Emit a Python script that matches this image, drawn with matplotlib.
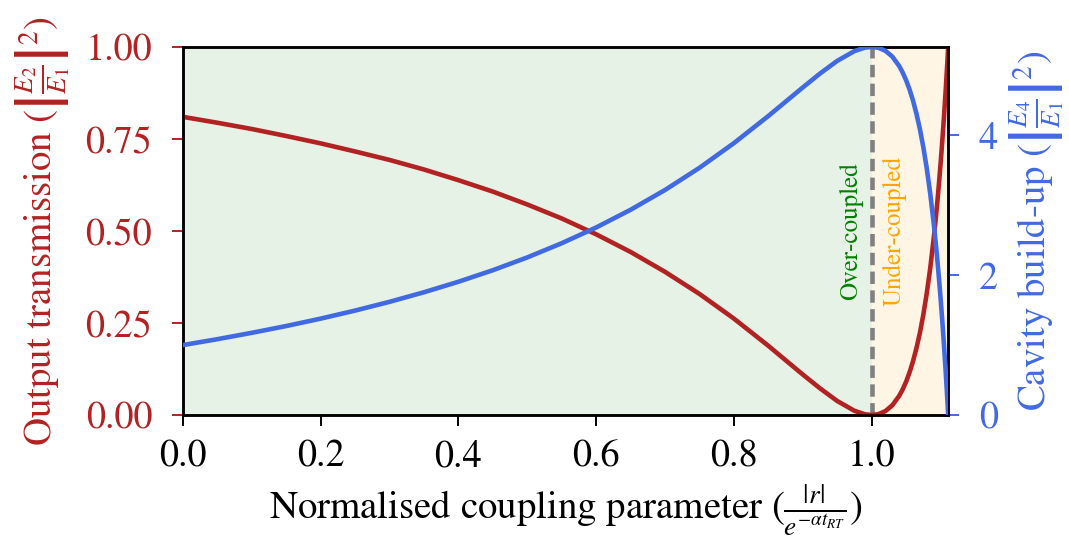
import matplotlib
matplotlib.use("Agg")
import matplotlib.pyplot as plt

plt.rcParams['font.family'] = ['STIXGeneral', 'DejaVu Serif']
plt.rcParams['mathtext.fontset'] = 'stix'

# Normalised coupling parameter values
x_vals = [0.0, 0.05, 0.1, 0.15, 0.2, 0.25, 0.3, 0.35, 0.4, 0.45, 0.5, 0.55,
          0.6, 0.65, 0.7, 0.75, 0.8, 0.85, 0.9, 0.925, 0.95, 0.975, 0.99,
          1.0, 1.01, 1.02, 1.03, 1.04, 1.045, 1.05, 1.055, 1.06, 1.065, 1.07,
          1.075, 1.08, 1.085, 1.09, 1.0925, 1.095, 1.0975, 1.10, 1.1025,
          1.105, 1.1075, 1.11, 1.1111]
# Output transmission |E2/E1|^2
transmission = [0.810, 0.794, 0.777, 0.758, 0.738, 0.716, 0.693, 0.667, 0.638,
                0.607, 0.572, 0.534, 0.491, 0.443, 0.389, 0.329, 0.262, 0.188,
                0.110, 0.0725, 0.0381, 0.0115, 0.0021, 0.0, 0.0025, 0.0107,
                0.0266, 0.0522, 0.0696, 0.0906, 0.1158, 0.146, 0.1814, 0.223,
                0.2727, 0.331, 0.3987, 0.479, 0.5234, 0.572, 0.6246, 0.682,
                0.7436, 0.811, 0.8836, 0.9627, 1.0]
# Cavity build-up |E4/E1|^2
buildup = [1.000, 1.084, 1.175, 1.272, 1.378, 1.493, 1.618, 1.755, 1.905,
           2.070, 2.253, 2.456, 2.681, 2.934, 3.217, 3.534, 3.887, 4.275,
           4.683, 4.882, 5.063, 5.203, 5.252, 5.263, 5.250, 5.207, 5.124,
           4.989, 4.897, 4.786, 4.654, 4.496, 4.308, 4.088, 3.828, 3.523,
           3.165, 2.745, 2.509, 2.253, 1.975, 1.675, 1.349, 0.996, 0.613,
           0.196, 0.0]

x_crit = 1.0
x_max = 1.1111
y2_max = 5.263

left_ticks = [0.0, 0.25, 0.5, 0.75, 1.0]
right_ticks = [0, 2, 4]
x_ticks = [0.0, 0.2, 0.4, 0.6, 0.8, 1.0]

red = '#b22222'
blue = '#4169e1'

fig = plt.figure(figsize=(10.69, 5.39), dpi=100)
ax = fig.add_axes([0.171, 0.230, 0.716, 0.683])

ax.axvspan(0, x_crit, color='green', alpha=0.1, lw=0)
ax.axvspan(x_crit, x_max, color='orange', alpha=0.1, lw=0)

ax.plot(x_vals, transmission, color=red, lw=3.3, zorder=3)
ax.axvline(x_crit, color='gray', ls='--', lw=3.3, dashes=(2.7, 1.4), zorder=2)

ax.text(0.970, 0.5, 'Over-coupled', rotation=90, color='green',
        fontsize=18, ha='center', va='center')
ax.text(1.033, 0.5, 'Under-coupled', rotation=90, color='orange',
        fontsize=18, ha='center', va='center')

ax.set_xlim(0, x_max)
ax.set_ylim(0, 1.0)
ax.set_xticks(x_ticks)
ax.set_xticklabels([f'{t:.1f}' for t in x_ticks])
ax.set_yticks(left_ticks)
ax.set_yticklabels([f'{t:.2f}' for t in left_ticks])
ax.tick_params(axis='y', colors=red, labelsize=27.5, length=8, width=1.4, pad=14)
ax.tick_params(axis='x', labelsize=27.5, length=8, width=1.4, pad=9.5)
ax.set_ylabel(r'Output transmission ($\left|\frac{E_2}{E_1}\right|^2$)',
              color=red, fontsize=28, labelpad=9)
ax.set_xlabel(r'Normalised coupling parameter ($\frac{|r|}{e^{-\alpha t_{RT}}}$)',
              fontsize=28, labelpad=6)

ax2 = ax.twinx()
ax2.plot(x_vals, buildup, color=blue, lw=3.3, zorder=3)
ax2.set_ylim(0, y2_max)
ax2.set_yticks(right_ticks)
ax2.tick_params(axis='y', colors=blue, labelsize=27.5, length=8, width=1.4, pad=14)
ax2.set_ylabel(r'Cavity build-up ($\left|\frac{E_4}{E_1}\right|^2$)',
               color=blue, fontsize=28, labelpad=7)

for a in (ax, ax2):
    for s in a.spines.values():
        s.set_linewidth(1.8)
        s.set_color('black')

# Keep the x label inside the figure
fig.canvas.draw()
renderer = fig.canvas.get_renderer()
for lp in [6, 5, 4, 3, 2, 1, 0]:
    ax.xaxis.labelpad = lp
    fig.canvas.draw()
    if ax.xaxis.label.get_window_extent(renderer).y0 >= 1:
        break

fig.savefig('out.png', dpi=100)
